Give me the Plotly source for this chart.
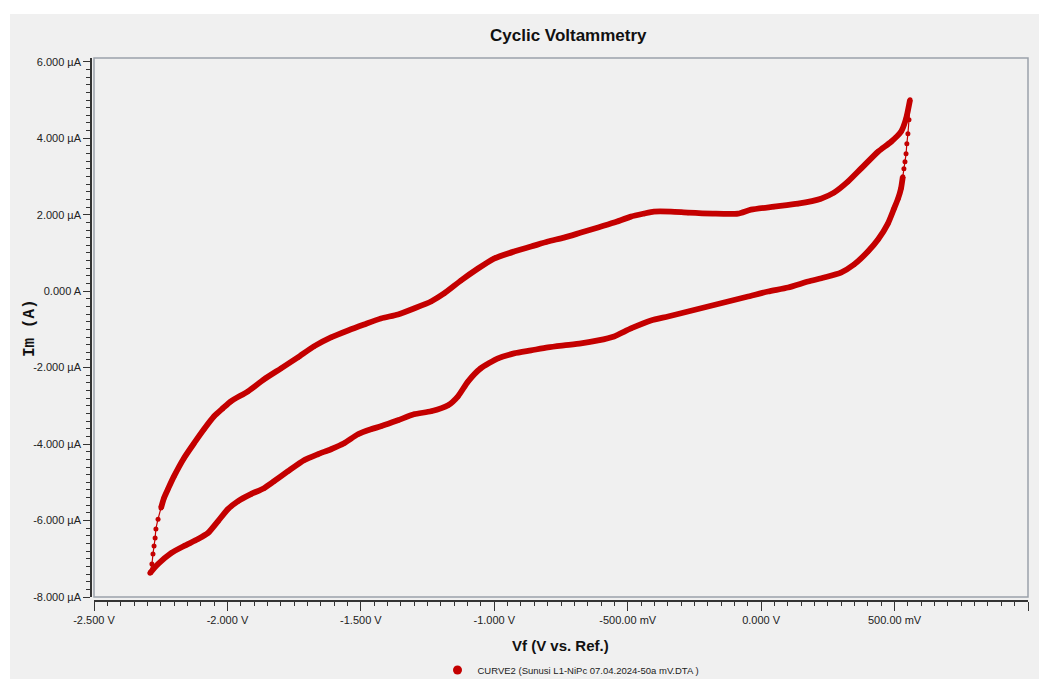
import plotly.graph_objects as go

# Forward (anodic) sweep: potential in V, current in µA
forward_v = [-2.290, -2.283, -2.279, -2.275, -2.271, -2.268, -2.260, -2.249,
             -2.238, -2.223, -2.200, -2.163, -2.125, -2.088, -2.050, -2.017,
             -1.987, -1.923, -1.863, -1.799, -1.736, -1.676, -1.612, -1.548,
             -1.488, -1.425, -1.361, -1.301, -1.237, -1.188, -1.125, -1.061,
             -1.001, -0.926, -0.862, -0.799, -0.739, -0.675, -0.611, -0.551,
             -0.488, -0.439, -0.402, -0.338, -0.274, -0.181, -0.087, -0.038,
             0.048, 0.138, 0.224, 0.273, 0.325, 0.374, 0.438, 0.487, 0.524,
             0.543, 0.558]
forward_i = [-7.373, -7.138, -6.877, -6.668, -6.459, -6.224, -5.963, -5.675,
             -5.414, -5.179, -4.839, -4.369, -3.977, -3.612, -3.272, -3.063,
             -2.880, -2.619, -2.306, -2.019, -1.732, -1.444, -1.209, -1.027,
             -0.870, -0.713, -0.608, -0.452, -0.269, -0.060, 0.279, 0.593,
             0.854, 1.037, 1.167, 1.298, 1.402, 1.533, 1.664, 1.794,
             1.951, 2.030, 2.082, 2.082, 2.055, 2.029, 2.029, 2.134,
             2.212, 2.290, 2.421, 2.578, 2.865, 3.205, 3.649, 3.910, 4.171,
             4.511, 5.007]

# Reverse (cathodic) sweep back to the switching potential
reverse_v = [0.558, 0.554, 0.550, 0.546, 0.543, 0.539, 0.535, 0.531, 0.524,
             0.513, 0.498, 0.475, 0.438, 0.400, 0.348, 0.299, 0.236, 0.176,
             0.101, 0.026, -0.049, -0.124, -0.199, -0.274, -0.349, -0.413,
             -0.488, -0.551, -0.611, -0.675, -0.739, -0.799, -0.862, -0.926,
             -0.986, -1.051, -1.098, -1.136, -1.173, -1.237, -1.301, -1.361,
             -1.425, -1.462, -1.511, -1.563, -1.612, -1.661, -1.713, -1.773,
             -1.825, -1.863, -1.912, -1.960, -1.998, -2.035, -2.073, -2.110,
             -2.163, -2.211, -2.260, -2.290]
reverse_i = [5.007, 4.485, 4.119, 3.858, 3.597, 3.388, 3.205, 2.996, 2.683,
             2.421, 2.160, 1.769, 1.351, 1.037, 0.698, 0.488, 0.358, 0.253,
             0.097, -0.008, -0.138, -0.269, -0.399, -0.530, -0.661, -0.765,
             -0.974, -1.183, -1.288, -1.366, -1.418, -1.470, -1.549, -1.627,
             -1.758, -2.019, -2.358, -2.750, -2.985, -3.142, -3.220, -3.377,
             -3.533, -3.612, -3.743, -3.978, -4.134, -4.265, -4.422, -4.709,
             -4.970, -5.153, -5.309, -5.492, -5.701, -6.014, -6.328, -6.484,
             -6.667, -6.850, -7.137, -7.373]

x_tick_vals = [-2.5, -2.0, -1.5, -1.0, -0.5, 0.0, 0.5, 1.0]
x_tick_text = ["-2.500 V", "-2.000 V", "-1.500 V", "-1.000 V",
               "-500.00 mV", "0.000 V", "500.00 mV", "1.000 V"]
y_tick_vals = [6, 4, 2, 0, -2, -4, -6, -8]
y_tick_text = ["6.000 µA", "4.000 µA", "2.000 µA", "0.000 A",
               "-2.000 µA", "-4.000 µA", "-6.000 µA", "-8.000 µA"]

curve_name = "CURVE2 (Sunusi L1-NiPc 07.04.2024-50a mV.DTA )"
red = "#c40000"
sans = "Liberation Sans, Arial, sans-serif"

# Steep switching segments are sparsely sampled; the rest of each sweep is dense
n_steep_fwd = 8
n_steep_rev = 8

fig = go.Figure()

# Whole loop with individual sample markers
fig.add_trace(go.Scatter(
    x=forward_v + reverse_v[1:], y=forward_i + reverse_i[1:],
    mode="lines+markers",
    line=dict(color=red, width=1.2, shape="spline", smoothing=0.6),
    marker=dict(color=red, size=5), showlegend=False, hoverinfo="skip"))

# Dense parts of both sweeps read as a thick band of overlapping markers
fig.add_trace(go.Scatter(
    x=forward_v[n_steep_fwd - 1:], y=forward_i[n_steep_fwd - 1:],
    mode="lines", line=dict(color=red, width=5.8, shape="spline", smoothing=0.6),
    showlegend=False))
fig.add_trace(go.Scatter(
    x=reverse_v[n_steep_rev - 1:], y=reverse_i[n_steep_rev - 1:],
    mode="lines", line=dict(color=red, width=5.8, shape="spline", smoothing=0.6),
    showlegend=False))

# Legend entry: a plain dot
fig.add_trace(go.Scatter(
    x=[None], y=[None], mode="markers", name=curve_name,
    marker=dict(color=red, size=9)))

plot_w = 1028 - 91
plot_h = 601 - 58

fig.update_layout(
    width=1041, height=679,
    margin=dict(l=91, r=13, t=58, b=78, pad=0, autoexpand=False),
    paper_bgcolor="white",
    plot_bgcolor="rgba(0,0,0,0)",
    font=dict(family=sans, size=11, color="#222222"),
    showlegend=True,
    legend=dict(orientation="h", x=(571 - 91) / plot_w, xanchor="center",
                y=-(670 - 601) / plot_h, yanchor="middle",
                font=dict(family=sans, size=9.5, color="#222222"),
                bgcolor="rgba(0,0,0,0)", itemwidth=30),
    xaxis=dict(
        range=[-2.5, 1.0], domain=[3 / plot_w, 1],
        anchor="free", position=0,
        tickvals=x_tick_vals, ticktext=x_tick_text,
        ticks="outside", ticklen=9, tickwidth=1, tickcolor="#333333",
        showline=True, linecolor="#333333", linewidth=1.5,
        showgrid=False, zeroline=False,
        minor=dict(dtick=0.05, tick0=0, ticks="outside", ticklen=4,
                   tickcolor="#333333", showgrid=False),
        tickfont=dict(family=sans, size=11, color="#222222"),
    ),
    yaxis=dict(
        range=[-8, 6.1], domain=[4 / plot_h, 1],
        anchor="free", position=0,
        tickvals=y_tick_vals, ticktext=y_tick_text,
        ticks="outside", ticklen=7, tickwidth=1, tickcolor="#333333",
        showline=True, linecolor="#333333", linewidth=1.5,
        showgrid=False, zeroline=False,
        minor=dict(dtick=0.2, tick0=0, ticks="outside", ticklen=4,
                   tickcolor="#333333", showgrid=False),
        tickfont=dict(family=sans, size=11, color="#222222"),
    ),
    shapes=[
        # light grey panel behind the whole chart
        dict(type="rect", xref="paper", yref="paper", layer="below",
             x0=(10 - 91) / plot_w, x1=(1039 - 91) / plot_w,
             y0=(601 - 679) / plot_h, y1=1 + (58 - 14) / plot_h,
             fillcolor="#f0f0f0", line=dict(width=0)),
        # plot frame
        dict(type="rect", xref="paper", yref="paper", layer="below",
             x0=3 / plot_w, x1=1, y0=4 / plot_h, y1=1,
             fillcolor="rgba(0,0,0,0)", line=dict(color="#9aa1aa", width=1.5)),
    ],
    annotations=[
        dict(text="<b>Cyclic Voltammetry</b>", xref="paper", yref="paper",
             x=(568 - 91) / plot_w, y=1 + (58 - 35) / plot_h,
             xanchor="center", yanchor="middle", showarrow=False,
             font=dict(family=sans, size=17, color="#111111")),
        dict(text="<b>Vf (V vs. Ref.)</b>", xref="paper", yref="paper",
             x=(560 - 91) / plot_w, y=-(645 - 601) / plot_h,
             xanchor="center", yanchor="middle", showarrow=False,
             font=dict(family=sans, size=15, color="#111111")),
        dict(text="<b>Im (A)</b>", xref="paper", yref="paper",
             x=(30 - 91) / plot_w, y=(601 - 328) / plot_h,
             xanchor="center", yanchor="middle", showarrow=False,
             textangle=-90,
             font=dict(family="Liberation Mono, Courier New, monospace",
                       size=16, color="#111111")),
    ],
)

fig.write_html("out.html")
